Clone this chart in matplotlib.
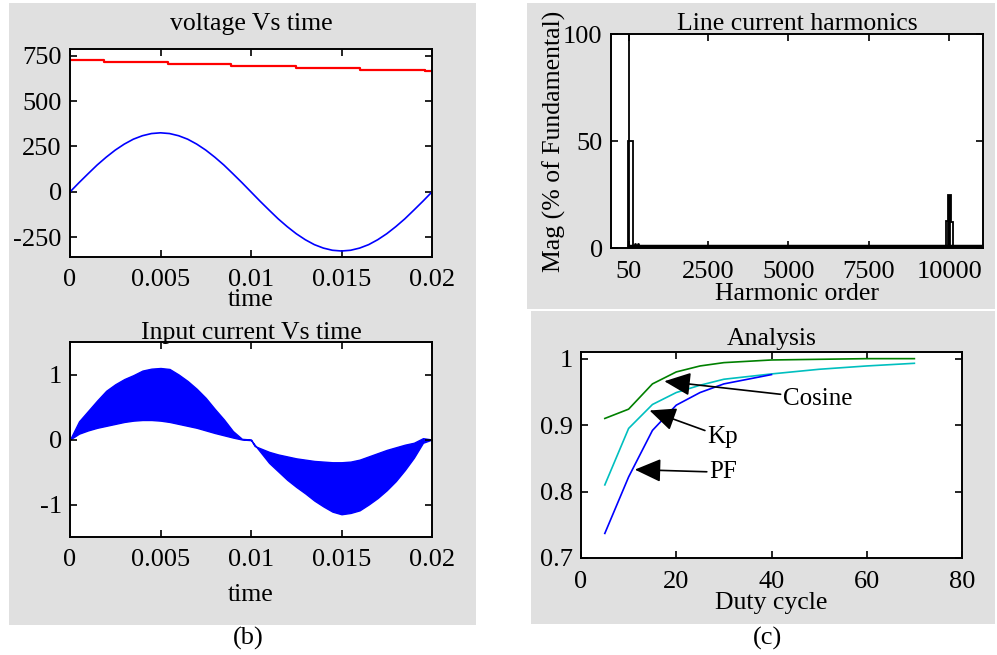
import numpy as np
import matplotlib as mpl
import matplotlib.pyplot as plt
from matplotlib.patches import Rectangle

mpl.rcParams['font.family'] = ['Liberation Serif', 'DejaVu Serif']
mpl.rcParams['font.size'] = 18
mpl.rcParams['axes.unicode_minus'] = False
mpl.rcParams['xtick.labelsize'] = 19
mpl.rcParams['ytick.labelsize'] = 19
mpl.rcParams['axes.titlesize'] = 18.5
mpl.rcParams['axes.labelsize'] = 18.5

# ---- data ----
# (b) top: supply voltage and dc link voltage
t_v = [0.0005 * i for i in range(41)]
v_ac = [0, 51, 100, 148, 191, 230, 263, 290, 309, 321, 325, 321, 309, 290, 263, 230, 191, 148, 100, 51,
        0, -51, -100, -148, -191, -230, -263, -290, -309, -321, -325, -321, -309, -290, -263, -230, -191,
        -148, -100, -51, 0]
t_dc = [0, 0.0019, 0.0054, 0.0089, 0.0125, 0.016, 0.0196, 0.02]
v_dc = [727, 716, 703, 692, 681, 672, 663, 663]

# (b) bottom: input current envelope (switching band)
t_i = [0, 0.0005, 0.001, 0.0015, 0.002, 0.0025, 0.003, 0.0035, 0.004, 0.0045, 0.005, 0.0055, 0.006,
       0.0065, 0.007, 0.0075, 0.008, 0.0085, 0.009, 0.0095, 0.01,
       0.0102, 0.011, 0.0115, 0.012, 0.0125, 0.013, 0.0135, 0.014, 0.0145, 0.015, 0.0155, 0.016,
       0.0165, 0.017, 0.0175, 0.018, 0.0185, 0.019, 0.0195, 0.02]
i_upper = [0, 0.28, 0.44, 0.60, 0.75, 0.85, 0.93, 0.99, 1.06, 1.09, 1.10, 1.085, 1.00,
           0.90, 0.78, 0.64, 0.47, 0.31, 0.13, 0.01, 0.0,
           -0.10, -0.19, -0.23, -0.26, -0.29, -0.31, -0.33, -0.34, -0.35, -0.35, -0.34, -0.31,
           -0.26, -0.21, -0.16, -0.12, -0.08, -0.05, 0.02, 0.0]
i_lower = [0, 0.09, 0.14, 0.18, 0.21, 0.24, 0.27, 0.29, 0.30, 0.30, 0.29, 0.27, 0.24,
           0.21, 0.18, 0.14, 0.10, 0.065, 0.03, 0.0, -0.01,
           -0.08, -0.36, -0.49, -0.62, -0.73, -0.83, -0.94, -1.03, -1.11, -1.15, -1.13, -1.09,
           -1.00, -0.90, -0.78, -0.64, -0.47, -0.28, -0.05, 0.0]

# (c) top: harmonic spectrum
fund_order = [50]
fund_mag = [100]
bar_orders = [100, 9930, 10000, 10065]
bar_mags = [50, 12.5, 25, 12]
bar_widths = [150, 80, 100, 80]
bar_faces = ['white', 'white', 'black', 'white']
floor_orders = [50, 10950]
floor_mags = [0.8, 0.8]
small_orders = [250, 350]
small_mags = [2, 2]

# (c) bottom: analysis vs duty cycle
duty = [5, 10, 15, 20, 25, 30, 40, 50, 60, 70]
cosine = [0.91, 0.924, 0.962, 0.980, 0.989, 0.994, 0.998, 0.999, 1.0, 1.0]
kp = [0.81, 0.895, 0.931, 0.949, 0.960, 0.969, 0.977, 0.984, 0.989, 0.993]
duty_pf = [5, 10, 15, 20, 25, 30, 40]
pf = [0.737, 0.822, 0.892, 0.930, 0.949, 0.962, 0.976]

W, H = 997, 655
fig = plt.figure(figsize=(W / 100, H / 100), dpi=100)

gray = '#e0e0e0'
for (x0, y0, x1, y1) in [(9, 3, 476, 625), (527, 3, 995, 309), (531, 311, 995, 624)]:
    fig.patches.append(Rectangle((x0 / W, 1 - y1 / H), (x1 - x0) / W, (y1 - y0) / H,
                                 transform=fig.transFigure, facecolor=gray, edgecolor='none', zorder=-1))


def box(px):
    l, t, r, b = px
    return [l / W, 1 - b / H, (r - l) / W, (b - t) / H]


def style(ax):
    ax.tick_params(direction='in', top=True, right=True, length=5, width=1.2, pad=6)
    ax.tick_params(axis='x', pad=9)
    for s in ax.spines.values():
        s.set_linewidth(1.4)


# voltage
ax1 = fig.add_axes(box((70, 49, 432, 257)))
ax1.plot(t_v, v_ac, color='#0000ff', lw=1.2)
ax1.plot(t_dc, v_dc, color='#ff0000', lw=1.6, drawstyle='steps-post')
ax1.set_xlim(0, 0.02)
ax1.set_ylim(-358, 786)
ax1.set_xticks([0, 0.005, 0.01, 0.015, 0.02], ['0', '0.005', '0.01', '0.015', '0.02'])
ax1.set_yticks([-250, 0, 250, 500, 750])
ax1.set_title('voltage Vs time', pad=14)
ax1.set_xlabel('time', labelpad=-2)
style(ax1)

# current
ax2 = fig.add_axes(box((70, 342, 432, 537)))
ax2.fill_between(t_i, i_lower, i_upper, color='#0000ff', lw=1)
ax2.set_xlim(0, 0.02)
ax2.set_ylim(-1.5, 1.5)
ax2.set_xticks([0, 0.005, 0.01, 0.015, 0.02], ['0', '0.005', '0.01', '0.015', '0.02'])
ax2.set_yticks([-1, 0, 1])
ax2.set_title('Input current Vs time', pad=2)
ax2.set_xlabel('time', labelpad=9)
style(ax2)

# harmonics
ax3 = fig.add_axes(box((611, 34, 983, 248)))
ax3.plot(floor_orders, floor_mags, color='k', lw=2.5)
ax3.bar(bar_orders, bar_mags, width=bar_widths, color=bar_faces, edgecolor='k', lw=1.3)
ax3.vlines(fund_order, 0, fund_mag, color='k', lw=1.3)
ax3.plot(small_orders, small_mags, 'k.', ms=2)
ax3.set_xlim(-500, 11040)
ax3.set_ylim(0, 100)
ax3.set_xticks([50, 2500, 5000, 7500, 10000])
ax3.set_yticks([0, 50, 100])
ax3.set_title('Line current harmonics', pad=3)
ax3.set_xlabel('Harmonic order', labelpad=0)
ax3.set_ylabel('Mag (% of Fundamental)', labelpad=-2)
style(ax3)

# analysis
ax4 = fig.add_axes(box((581, 352, 962, 558)))
ax4.plot(duty, cosine, color='#008000', lw=1.2)
ax4.plot(duty, kp, color='#00bfbf', lw=1.2)
ax4.plot(duty_pf, pf, color='#0000ff', lw=1.2)
ax4.set_xlim(0, 80)
ax4.set_ylim(0.7, 1.01)
ax4.set_xticks([0, 20, 40, 60, 80])
ax4.set_yticks([0.7, 0.8, 0.9, 1.0], ['0.7', '0.8', '0.9', '1'])
ax4.set_title('Analysis', pad=5)
ax4.set_xlabel('Duty cycle', labelpad=0)
style(ax4)

arrow = dict(arrowstyle='-|>,head_length=0.9,head_width=0.4', color='k', lw=1.2, shrinkA=0, shrinkB=0)
ax4.annotate('Cosine', xy=(17.5, 0.966), xytext=(42.5, 0.94), ha='left', va='center', arrowprops=arrow)
ax4.annotate('Kp', xy=(14.4, 0.922), xytext=(26.6, 0.882), ha='left', va='center', arrowprops=arrow)
ax4.annotate('PF', xy=(11.3, 0.833), xytext=(27.0, 0.829), ha='left', va='center', arrowprops=arrow)

fig.text(248 / W, 1 - 638 / H, '(b)', ha='center', va='center', fontsize=19)
fig.text(768 / W, 1 - 638 / H, '(c)', ha='center', va='center', fontsize=19)

fig.savefig('out.png', dpi=100)
